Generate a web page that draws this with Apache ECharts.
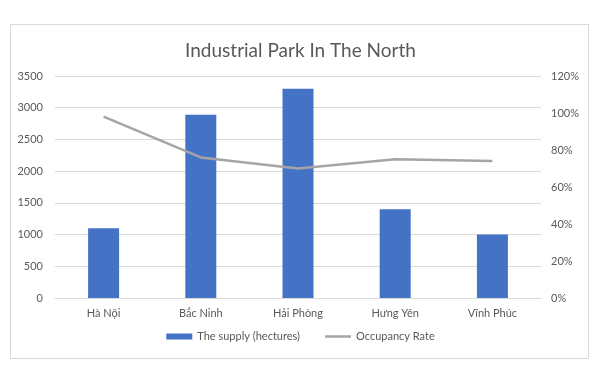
<!DOCTYPE html>
<html><head><meta charset="utf-8">
<script src="https://cdn.jsdelivr.net/npm/echarts@6/dist/echarts.min.js"></script>
<style>html,body{margin:0;padding:0;background:#fff}#c{width:601px;height:367px}
#box{position:absolute;left:10px;top:24px;width:579px;height:335px;border:1px solid #d9d9d9;box-sizing:border-box;pointer-events:none}</style>
</head><body><div id="c"></div><div id="box"></div>
<script>
const categories = ['Hà Nội', 'Bắc Ninh', 'Hải Phòng', 'Hưng Yên', 'Vĩnh Phúc'];
const supply = [1100, 2890, 3300, 1400, 1000];
const occupancy = [98, 76, 70, 75, 74];
const leftTicks = [0, 500, 1000, 1500, 2000, 2500, 3000, 3500];
const rightTicks = [0, 20, 40, 60, 80, 100, 120];
const font = 'Lato, "Open Sans", sans-serif';
const chart = echarts.init(document.getElementById('c'));
chart.setOption({
  animation: false,
  title: { text: 'Industrial Park In The North', left: 'center', top: 36,
    textStyle: { fontFamily: font, fontSize: 19, fontWeight: 'normal', color: '#595959' } },
  grid: { left: 55, right: 60, top: 76, bottom: 69 },
  legend: { bottom: 20, left: 'center', itemGap: 25, itemWidth: 26, itemHeight: 6,
    textStyle: { fontFamily: font, fontSize: 11, color: '#595959' },
    data: [{ name: 'The supply (hectures)', icon: 'rect' },
           { name: 'Occupancy Rate', icon: 'path://M0,0 L26,0 L26,2.5 L0,2.5 Z' }] },
  xAxis: { type: 'category', data: categories,
    axisLine: { lineStyle: { color: '#d9d9d9' } }, axisTick: { show: false },
    axisLabel: { fontFamily: font, fontSize: 11, color: '#595959', margin: 10 } },
  yAxis: [
    { type: 'value', min: leftTicks[0], max: leftTicks[leftTicks.length - 1], interval: 500,
      axisLine: { show: false }, axisTick: { show: false },
      splitLine: { lineStyle: { color: '#d9d9d9' } },
      axisLabel: { fontFamily: font, fontSize: 11, color: '#595959', margin: 12,
        formatter: v => String(v) } },
    { type: 'value', min: rightTicks[0], max: rightTicks[rightTicks.length - 1], interval: 20,
      axisLine: { show: false }, axisTick: { show: false }, splitLine: { show: false },
      axisLabel: { fontFamily: font, fontSize: 11, color: '#595959', margin: 10,
        formatter: v => v + '%' } }
  ],
  series: [
    { name: 'The supply (hectures)', type: 'bar', data: supply, barWidth: 31,
      itemStyle: { color: '#4472c4' } },
    { name: 'Occupancy Rate', type: 'line', yAxisIndex: 1, data: occupancy,
      symbol: 'none', lineStyle: { color: '#a5a5a5', width: 2.5 }, itemStyle: { color: '#a5a5a5' } }
  ]
});
</script></body></html>
